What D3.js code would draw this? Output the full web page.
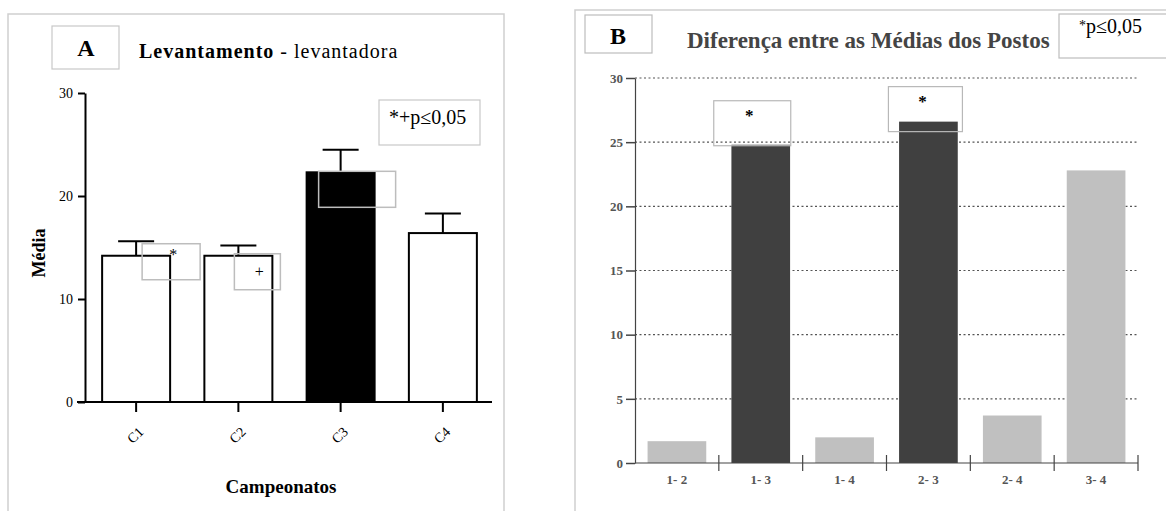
<!DOCTYPE html>
<html>
<head>
<meta charset="utf-8">
<script src="https://cdn.jsdelivr.net/npm/d3@7"></script>
<style>
  body { margin: 0; background: #fff; }
  text { font-family: "Liberation Serif", "DejaVu Serif", serif; }
</style>
</head>
<body>
<script>
"use strict";

// panel A: mean per championship, with SEM
var campeonatos = ["C1", "C2", "C3", "C4"];
var medias = [14.2, 14.2, 22.3, 16.4];
var erros = [1.4, 1.0, 2.2, 1.9];
var destaqueA = [false, false, true, false];
var ticksA = [0, 10, 20, 30];

// panel B: difference between rank means
var pares = ["1- 2", "1- 3", "1- 4", "2- 3", "2- 4", "3- 4"];
var diferencas = [1.7, 24.8, 2.0, 26.6, 3.7, 22.8];
var significativo = [false, true, false, true, false, false];
var ticksB = [0, 5, 10, 15, 20, 25, 30];

window.onload = function() {
  var svg = d3.select("body").append("svg")
      .attr("width", 1166)
      .attr("height", 511);

  // ---------- panel A ----------
  var gA = svg.append("g");
  gA.append("rect")
      .attr("x", 8).attr("y", 14).attr("width", 496).attr("height", 520)
      .attr("fill", "none").attr("stroke", "#cfcfcf").attr("stroke-width", 1.5);

  gA.append("rect")
      .attr("x", 52).attr("y", 26).attr("width", 67).attr("height", 43)
      .attr("fill", "none").attr("stroke", "#c8c8c8").attr("stroke-width", 1.2);
  gA.append("text").attr("x", 86).attr("y", 56)
      .attr("text-anchor", "middle").attr("font-size", 24).attr("font-weight", "bold")
      .text("A");

  var tA = gA.append("text").attr("x", 139).attr("y", 58)
      .attr("font-size", 20).attr("letter-spacing", 1);
  tA.append("tspan").attr("font-weight", "bold").text("Levantamento");
  tA.append("tspan").text(" - levantadora");

  var xA = d3.scaleBand().domain(campeonatos).range([85, 494])
      .paddingInner(0.335).paddingOuter(0.1675);
  var yA = d3.scaleLinear().domain([0, 30]).range([402, 93]);

  // bars
  gA.selectAll(".barA").data(campeonatos).enter().append("rect")
      .attr("x", function(d) { return xA(d); })
      .attr("y", function(d, i) { return yA(medias[i]); })
      .attr("width", xA.bandwidth())
      .attr("height", function(d, i) { return yA(0) - yA(medias[i]); })
      .attr("fill", function(d, i) { return destaqueA[i] ? "#000" : "#fff"; })
      .attr("stroke", "#000").attr("stroke-width", 2);

  // error bars (upper only)
  gA.selectAll(".errA").data(campeonatos).enter().append("path")
      .attr("d", function(d, i) {
        var cx = xA(d) + xA.bandwidth() / 2;
        var y0 = yA(medias[i]), y1 = yA(medias[i] + erros[i]);
        return "M" + cx + "," + y0 + "V" + y1 + "M" + (cx - 18) + "," + y1 + "H" + (cx + 18);
      })
      .attr("fill", "none").attr("stroke", "#000").attr("stroke-width", 2);

  // axes
  var axYA = gA.append("g").attr("transform", "translate(85,0)")
      .attr("font-family", null)
      .call(d3.axisLeft(yA).tickValues(ticksA).tickSize(7).tickSizeOuter(0));
  axYA.select(".domain").attr("stroke-width", 2);
  axYA.selectAll(".tick line").attr("stroke-width", 2);
  axYA.selectAll(".tick text").attr("font-size", 14)
      .attr("font-family", "Liberation Serif").attr("dx", -2);

  gA.append("line").attr("x1", 77).attr("x2", 492).attr("y1", 402).attr("y2", 402)
      .attr("stroke", "#000").attr("stroke-width", 2);
  var axXA = gA.append("g").attr("transform", "translate(0,402)")
      .call(d3.axisBottom(xA).tickSize(10).tickSizeOuter(0));
  axXA.select(".domain").remove();
  axXA.selectAll(".tick line").attr("stroke-width", 2);
  axXA.selectAll(".tick text").attr("font-size", 14)
      .attr("font-family", "Liberation Serif")
      .attr("text-anchor", "middle")
      .attr("transform", "translate(-1,33) rotate(-45)")
      .attr("y", 0).attr("dy", "0.35em");

  gA.append("text").attr("x", 281).attr("y", 493)
      .attr("text-anchor", "middle").attr("font-size", 19).attr("font-weight", "bold")
      .text("Campeonatos");
  gA.append("text").attr("transform", "translate(45,253) rotate(-90)")
      .attr("text-anchor", "middle").attr("font-size", 18).attr("font-weight", "bold")
      .text("Média");

  // significance boxes over bars (offsets from bar centre / bar top)
  var caixasA = [
    { i: 0, dx0: 6, dx1: 64, dy: -12, mark: "*", mx: 37, my: 10 },
    { i: 1, dx0: -4, dx1: 42, dy: -2, mark: "+", mx: 21, my: 17 },
    { i: 2, dx0: -22, dx1: 55, dy: -1, mark: "", mx: 0, my: 0 }
  ];
  caixasA.forEach(function(c) {
    var cx = xA(campeonatos[c.i]) + xA.bandwidth() / 2;
    var top = yA(medias[c.i]) + c.dy;
    gA.append("rect").attr("x", cx + c.dx0).attr("y", top)
        .attr("width", c.dx1 - c.dx0).attr("height", 36)
        .attr("fill", "none").attr("stroke", "#bdbdbd").attr("stroke-width", 1.5);
    if (c.mark) {
      gA.append("text").attr("x", cx + c.mx).attr("y", top + c.my + 6)
          .attr("text-anchor", "middle").attr("font-size", 16).text(c.mark);
    }
  });

  gA.append("rect").attr("x", 379).attr("y", 100).attr("width", 101).attr("height", 45)
      .attr("fill", "#fff").attr("stroke", "#c8c8c8").attr("stroke-width", 1.2);
  gA.append("text").attr("x", 389).attr("y", 124).attr("font-size", 20)
      .text("*+p≤0,05");

  // ---------- panel B ----------
  var gB = svg.append("g");
  gB.append("rect")
      .attr("x", 575).attr("y", 10).attr("width", 620).attr("height", 520)
      .attr("fill", "none").attr("stroke", "#cfcfcf").attr("stroke-width", 1.5);

  gB.append("rect").attr("x", 585).attr("y", 15).attr("width", 67).attr("height", 38)
      .attr("fill", "none").attr("stroke", "#bdbdbd").attr("stroke-width", 1.2);
  gB.append("text").attr("x", 618).attr("y", 44)
      .attr("text-anchor", "middle").attr("font-size", 24).attr("font-weight", "bold")
      .text("B");
  gB.append("text").attr("x", 687).attr("y", 48)
      .attr("font-size", 23).attr("font-weight", "bold").attr("fill", "#444")
      .text("Diferença entre as Médias dos Postos");

  gB.append("rect").attr("x", 1059).attr("y", 14).attr("width", 130).attr("height", 44)
      .attr("fill", "#fff").attr("stroke", "#bdbdbd").attr("stroke-width", 1.2);
  var tB = gB.append("text").attr("x", 1079).attr("y", 33).attr("font-size", 20);
  tB.append("tspan").attr("font-size", 14).attr("dy", -3).text("*");
  tB.append("tspan").attr("dy", 3).text("p≤0,05");

  var xB = d3.scaleBand().domain(pares).range([635, 1138])
      .paddingInner(0.3).paddingOuter(0.15);
  var yB = d3.scaleLinear().domain([0, 30]).range([463, 78]);

  // dotted grid
  gB.selectAll(".grid").data(ticksB.slice(1)).enter().append("line")
      .attr("x1", 635).attr("x2", 1138)
      .attr("y1", function(d) { return yB(d); })
      .attr("y2", function(d) { return yB(d); })
      .attr("stroke", "#555").attr("stroke-width", 1.2).attr("stroke-dasharray", "2,2.5");

  gB.selectAll(".barB").data(pares).enter().append("rect")
      .attr("x", function(d) { return xB(d); })
      .attr("y", function(d, i) { return yB(diferencas[i]); })
      .attr("width", xB.bandwidth())
      .attr("height", function(d, i) { return yB(0) - yB(diferencas[i]); })
      .attr("fill", function(d, i) { return significativo[i] ? "#404040" : "#c0c0c0"; });

  var axYB = gB.append("g").attr("transform", "translate(635,0)")
      .call(d3.axisLeft(yB).tickValues(ticksB).tickSize(9).tickSizeOuter(0));
  axYB.select(".domain").attr("stroke", "#444").attr("stroke-width", 1.2);
  axYB.selectAll(".tick line").attr("stroke", "#444").attr("stroke-width", 1.5);
  axYB.selectAll(".tick text").attr("font-size", 13).attr("fill", "#555")
      .attr("font-family", "Liberation Serif").attr("font-weight", "bold");

  // x axis with ticks at band boundaries
  gB.append("line").attr("x1", 635).attr("x2", 1138).attr("y1", 463).attr("y2", 463)
      .attr("stroke", "#444").attr("stroke-width", 1.2);
  gB.selectAll(".sep").data(pares).enter().append("line")
      .attr("x1", function(d) { return xB(d) + xB.bandwidth() + xB.step() * 0.15; })
      .attr("x2", function(d) { return xB(d) + xB.bandwidth() + xB.step() * 0.15; })
      .attr("y1", 455).attr("y2", 471)
      .attr("stroke", "#444").attr("stroke-width", 1.2);
  gB.selectAll(".labB").data(pares).enter().append("text")
      .attr("x", function(d) { return xB(d) + xB.bandwidth() / 2; })
      .attr("y", 484)
      .attr("text-anchor", "middle").attr("font-size", 13).attr("font-weight", "bold")
      .attr("fill", "#555")
      .text(function(d) { return d; });

  // significance boxes (offsets from bar centre / bar top)
  var caixasB = [
    { i: 1, dx0: -47, dx1: 30, dy0: -44, dy1: 1 },
    { i: 3, dx0: -40, dx1: 34, dy0: -35, dy1: 10 }
  ];
  caixasB.forEach(function(c) {
    var cx = xB(pares[c.i]) + xB.bandwidth() / 2;
    var top = yB(diferencas[c.i]);
    gB.append("rect").attr("x", cx + c.dx0).attr("y", top + c.dy0)
        .attr("width", c.dx1 - c.dx0).attr("height", c.dy1 - c.dy0)
        .attr("fill", "none").attr("stroke", "#b8b8b8").attr("stroke-width", 1.2);
    gB.append("text").attr("x", cx + (c.dx0 + c.dx1) / 2 - 3).attr("y", top + c.dy0 + 20)
        .attr("text-anchor", "middle").attr("font-size", 17).attr("font-weight", "bold")
        .text("*");
  });
};
</script>
</body>
</html>
